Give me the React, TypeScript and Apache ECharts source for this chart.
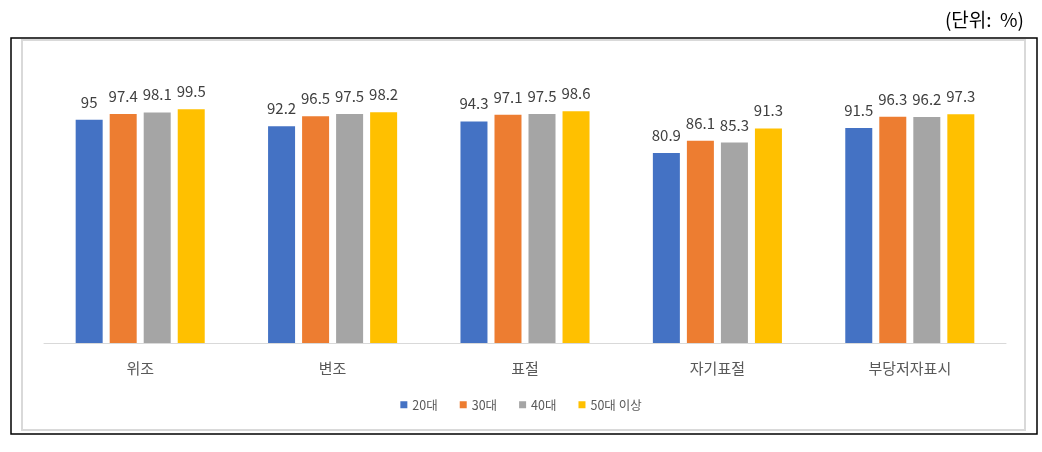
import React, { useEffect, useRef } from "react";
import * as echarts from "echarts";

const categories = ["위조", "변조", "표절", "자기표절", "부당저자표시"];
const seriesNames = ["20대", "30대", "40대", "50대 이상"];
const v20 = [95, 92.2, 94.3, 80.9, 91.5];
const v30 = [97.4, 96.5, 97.1, 86.1, 96.3];
const v40 = [98.1, 97.5, 97.5, 85.3, 96.2];
const v50 = [99.5, 98.2, 98.6, 91.3, 97.3];
const colors = ["#4472C4", "#ED7D31", "#A5A5A5", "#FFC000"];
const unitText = "(단위:  %)";

const FONT = "'Noto Sans CJK KR', 'Noto Sans', sans-serif";

export default function App() {
  const ref = useRef<HTMLDivElement>(null);
  useEffect(() => {
    if (!ref.current) return;
    const chart = echarts.init(ref.current, undefined, { renderer: "svg" });
    const data = [v20, v30, v40, v50];
    chart.setOption({
      animation: false,
      textStyle: { fontFamily: FONT },
      graphic: [
        {
          type: "rect",
          shape: { x: 11, y: 38, width: 1026, height: 396 },
          style: { fill: "#fff", stroke: "#000", lineWidth: 1.5 },
          z: -10,
        },
        {
          type: "rect",
          shape: { x: 22, y: 40, width: 1003, height: 390 },
          style: { fill: "#fff", stroke: "#d9d9d9", lineWidth: 2 },
          z: -9,
        },
        {
          type: "text",
          right: 18,
          top: 9,
          style: { text: unitText, fontSize: 19, fill: "#000", fontFamily: FONT },
        },
      ],
      legend: {
        data: seriesNames,
        bottom: 36,
        left: "center",
        icon: "rect",
        itemWidth: 7,
        itemHeight: 7,
        itemGap: 22,
        textStyle: { fontSize: 12.5, color: "#595959", fontFamily: FONT },
      },
      grid: { left: 44, right: 36, top: 108, bottom: 109, containLabel: false },
      xAxis: {
        type: "category",
        data: categories,
        axisLine: { lineStyle: { color: "#d9d9d9", width: 1 } },
        axisTick: { show: false },
        axisLabel: { fontSize: 15, color: "#595959", margin: 17, fontFamily: FONT },
      },
      yAxis: {
        type: "value",
        min: 0,
        max: 100,
        show: false,
        splitLine: { show: false },
      },
      series: seriesNames.map((name, i) => ({
        name,
        type: "bar",
        data: data[i],
        barWidth: 27,
        barGap: "26%",
        itemStyle: { color: colors[i] },
        label: {
          show: true,
          position: "top",
          distance: 11,
          fontSize: 15,
          color: "#404040",
          fontFamily: FONT,
        },
      })),
    });
    return () => chart.dispose();
  }, []);
  return (
    <div
      ref={ref}
      style={{ position: "fixed", left: 0, top: 0, width: 1042, height: 452 }}
    />
  );
}
